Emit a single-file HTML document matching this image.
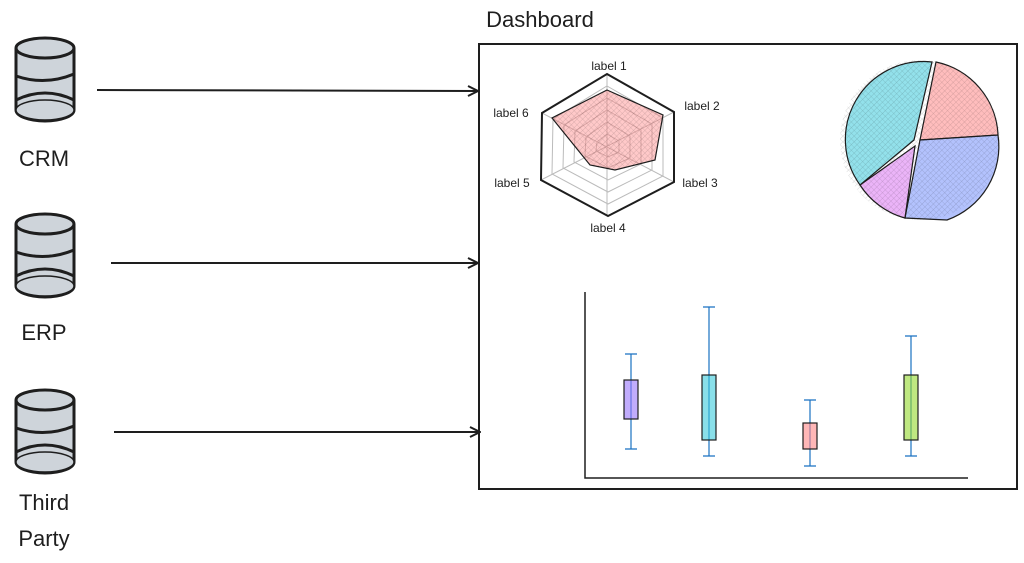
<!DOCTYPE html>
<html><head><style>
body{margin:0;background:#fff;width:1024px;height:563px;overflow:hidden}
svg{display:block}
text{font-family:"Liberation Sans",sans-serif;fill:#1e1e1e}
</style></head><body>
<svg width="1024" height="563" viewBox="0 0 1024 563">
<defs>
<pattern id="h" width="4" height="4" patternUnits="userSpaceOnUse" patternTransform="rotate(45)"><path d="M0 0V4M0 0H4" stroke="#000" stroke-width="0.6" opacity="0.25"/></pattern>
<marker id="a" markerWidth="12" markerHeight="12" refX="11" refY="6" orient="auto" markerUnits="userSpaceOnUse"><path d="M1 1L11 6L1 11" fill="none" stroke="#1e1e1e" stroke-width="2"/></marker>
</defs>
<g stroke="#1e1e1e" stroke-width="3" fill="#ced4da">
<g transform="translate(16,38)"><path d="M0 10V72A29 11 0 0 0 58 72V10"/><ellipse cx="29" cy="10" rx="29" ry="10"/><path d="M0 38Q29 48 58 36M0 62Q29 48 58 62" fill="none"/><ellipse cx="29" cy="72" rx="29" ry="10" stroke-width="1.5"/></g>
<g transform="translate(16,214)"><path d="M0 10V72A29 11 0 0 0 58 72V10"/><ellipse cx="29" cy="10" rx="29" ry="10"/><path d="M0 38Q29 48 58 36M0 62Q29 48 58 62" fill="none"/><ellipse cx="29" cy="72" rx="29" ry="10" stroke-width="1.5"/></g>
<g transform="translate(16,390)"><path d="M0 10V72A29 11 0 0 0 58 72V10"/><ellipse cx="29" cy="10" rx="29" ry="10"/><path d="M0 38Q29 48 58 36M0 62Q29 48 58 62" fill="none"/><ellipse cx="29" cy="72" rx="29" ry="10" stroke-width="1.5"/></g>
</g>
<g font-size="22" text-anchor="middle">
<text x="44" y="166">CRM</text><text x="44" y="340">ERP</text><text x="44" y="510">Third</text><text x="44" y="546">Party</text>
<text x="540" y="27">Dashboard</text>
</g>
<g stroke="#1e1e1e" stroke-width="2" fill="none" marker-end="url(#a)">
<line x1="97" y1="90" x2="478" y2="91"/><line x1="111" y1="263" x2="478" y2="263"/><line x1="114" y1="432" x2="480" y2="432"/>
</g>
<rect x="479" y="44" width="538" height="445" fill="none" stroke="#1e1e1e" stroke-width="2"/>
<g fill="none" stroke="#bbb" stroke-width="1">
<polygon points="607,86 663,118 663,176 608,204 552,174 553,119"/>
<polygon points="607,98 652,124 652,170 608,192 563,168 564,125"/>
<polygon points="607,110 641,130 641,164 608,180 574,162 575,131"/>
<polygon points="607,122 630,136 630,158 608,168 585,156 586,137"/>
<polygon points="607,134 619,141 619,152 608,157 596,151 597,142"/>
<path d="M607 74V216M541 180L674 112M542 113L674 182"/>
</g>
<polygon points="607,90 663,115 655,160 615,170 590,165 552,118" fill="#ff8787" fill-opacity="0.45" stroke="#1e1e1e" stroke-width="1.2"/>
<polygon points="607,90 663,115 655,160 615,170 590,165 552,118" fill="url(#h)"/>
<polygon points="607,74 674,112 674,182 608,216 541,180 542,113" fill="none" stroke="#1e1e1e" stroke-width="2"/>
<g font-size="12" text-anchor="middle">
<text x="609" y="70">label 1</text><text x="702" y="110">label 2</text><text x="700" y="187">label 3</text><text x="608" y="232">label 4</text><text x="512" y="187">label 5</text><text x="511" y="117">label 6</text>
</g>
<g stroke="#1e1e1e" stroke-width="1.2" fill-opacity="0.55">
<path d="M920 140L936 62A78 78 0 0 1 998 135Z" fill="#ff8787"/>
<path d="M920 140L998 135A78 78 0 0 1 947 220L905 218Z" fill="#748ffc"/>
<path d="M915 146L905 218A78 78 0 0 1 860 185Z" fill="#da77f2"/>
<path d="M914 140L860 185A78 78 0 0 1 932 62Z" fill="#3bc9db"/>
</g>
<circle cx="920" cy="140" r="80" fill="url(#h)"/>
<path d="M585 292V478H968" fill="none" stroke="#1e1e1e" stroke-width="1.5"/>
<g stroke="#1971c2" stroke-width="1.2">
<path d="M631 354V449M625 354H637M625 449H637"/>
<path d="M709 307V456M703 307H715M703 456H715"/>
<path d="M810 400V466M804 400H816M804 466H816"/>
<path d="M911 336V456M905 336H917M905 456H917"/>
</g>
<g stroke="#1e1e1e" stroke-width="1.2" fill-opacity="0.6">
<rect x="624" y="380" width="14" height="39" fill="#9775fa"/>
<rect x="702" y="375" width="14" height="65" fill="#3bc9db"/>
<rect x="803" y="423" width="14" height="26" fill="#ff8787"/>
<rect x="904" y="375" width="14" height="65" fill="#94d82d"/>
</g>
</svg>
</body></html>
